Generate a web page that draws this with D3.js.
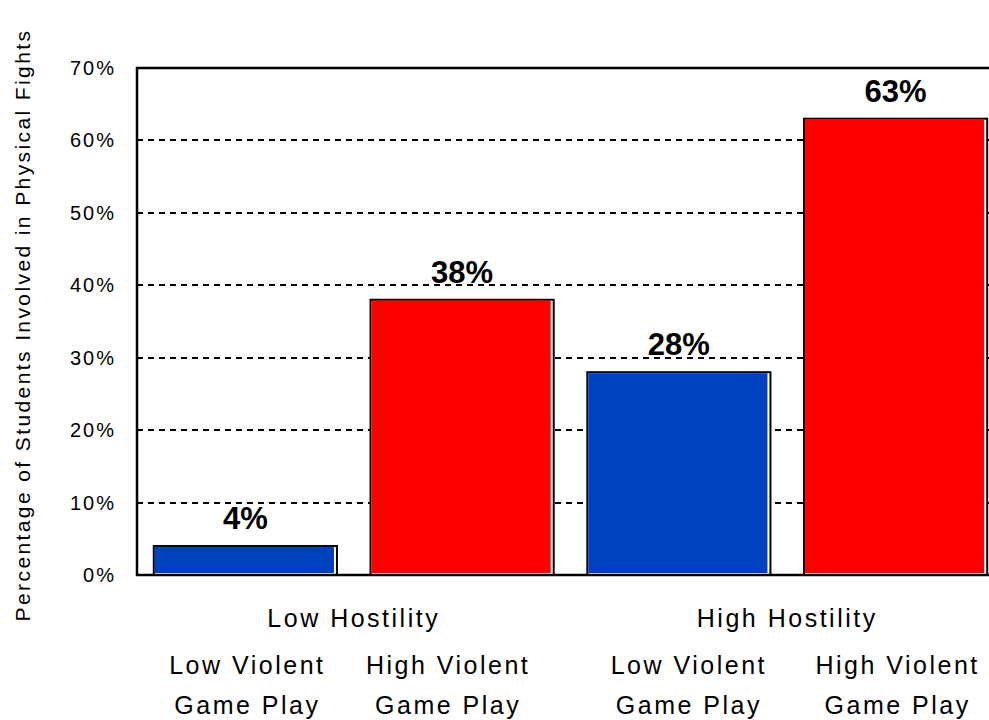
<!DOCTYPE html>
<html>
<head>
<meta charset="utf-8">
<script src="https://cdn.jsdelivr.net/npm/d3@7"></script>
<style>
  html, body { margin: 0; padding: 0; background: #fff; }
  svg { display: block; font-family: "Liberation Sans", Arial, sans-serif; }
</style>
</head>
<body>
<svg id="chart" width="989" height="720"></svg>
<script>
// Share of students involved in physical fights, by hostility and game play
const bars = ["LH-LV", "LH-HV", "HH-LV", "HH-HV"];
const values = [4, 38, 28, 63];
const barColors = ["#0041BF", "#FF0000", "#0041BF", "#FF0000"];
const barLines = [["Low Violent", "Game Play"], ["High Violent", "Game Play"],
                  ["Low Violent", "Game Play"], ["High Violent", "Game Play"]];
const groups = ["Low Hostility", "High Hostility"];
const groupBars = [["LH-LV", "LH-HV"], ["HH-LV", "HH-HV"]];
const yTicks = [0, 10, 20, 30, 40, 50, 60, 70];
const yTitle = "Percentage of Students Involved in Physical Fights";

const svg = d3.select("#chart");
const plotLeft = 137, plotTop = 68, plotBottom = 575, plotRight = 1004;
// horizontal nudge of each two-line category label relative to its bar centre
const labelNudge = [2, -14, 10, 2];

const x = d3.scaleBand().domain(bars).range([plotLeft, plotRight])
  .paddingInner(0.155).paddingOuter(0.0775);
const y = d3.scaleLinear().domain([0, 70]).range([plotBottom, plotTop]);

// dashed gridlines
svg.append("g").selectAll("line")
  .data(yTicks.filter(t => t > 0 && t < 70))
  .join("line")
  .attr("x1", plotLeft).attr("x2", plotRight)
  .attr("y1", d => Math.round(y(d))).attr("y2", d => Math.round(y(d)))
  .attr("stroke", "#000").attr("stroke-width", 2)
  .attr("stroke-dasharray", "6,5");

// y tick labels
svg.append("g").selectAll("text")
  .data(yTicks).join("text")
  .attr("x", 116).attr("y", d => y(d))
  .attr("dy", "0.35em")
  .attr("text-anchor", "end")
  .attr("font-size", 20)
  .attr("letter-spacing", 2)
  .text(d => d + "%");

// bars: black outline, white inner edge at right/bottom, colour fill
const bg = svg.append("g").selectAll("g").data(bars).join("g");
bg.append("rect")
  .attr("x", d => x(d)).attr("y", (d, i) => y(values[i]))
  .attr("width", x.bandwidth())
  .attr("height", (d, i) => plotBottom - y(values[i]))
  .attr("fill", "#fff").attr("stroke", "#000").attr("stroke-width", 2);
bg.append("rect")
  .attr("x", d => x(d) + 1)
  .attr("y", (d, i) => y(values[i]) + 1)
  .attr("width", x.bandwidth() - 4)
  .attr("height", (d, i) => plotBottom - y(values[i]) - 3)
  .attr("fill", (d, i) => barColors[i]);

// value labels
svg.append("g").selectAll("text").data(bars).join("text")
  .attr("x", d => x(d) + x.bandwidth() / 2)
  .attr("y", (d, i) => y(values[i]) - 17)
  .attr("text-anchor", "middle")
  .attr("font-size", 31).attr("font-weight", "bold")
  .text((d, i) => values[i] + "%");

// frame
svg.append("path")
  .attr("d", `M${plotRight},${plotTop}H${plotLeft}V${plotBottom}H${plotRight}`)
  .attr("fill", "none").attr("stroke", "#000").attr("stroke-width", 2.5);

// bar category labels (two lines each)
const cl = svg.append("g").selectAll("text").data(bars).join("text")
  .attr("text-anchor", "middle")
  .attr("font-size", 25)
  .attr("letter-spacing", 2.5);
cl.selectAll("tspan").data((d, i) => barLines[i].map((t, j) => ({ t, j, d, i })))
  .join("tspan")
  .attr("x", o => x(o.d) + x.bandwidth() / 2 + labelNudge[o.i])
  .attr("y", o => 674 + o.j * 40)
  .text(o => o.t);

// group labels
svg.append("g").selectAll("text").data(groups).join("text")
  .attr("x", (d, i) => (x(groupBars[i][0]) + x(groupBars[i][1]) + x.bandwidth()) / 2)
  .attr("y", 627)
  .attr("text-anchor", "middle")
  .attr("font-size", 25)
  .attr("letter-spacing", 2.5)
  .text(d => d);

// y-axis title
svg.append("text")
  .attr("transform", "translate(30,325) rotate(-90)")
  .attr("text-anchor", "middle")
  .attr("font-size", 21)
  .attr("letter-spacing", 2.4)
  .text(yTitle);
</script>
</body>
</html>
